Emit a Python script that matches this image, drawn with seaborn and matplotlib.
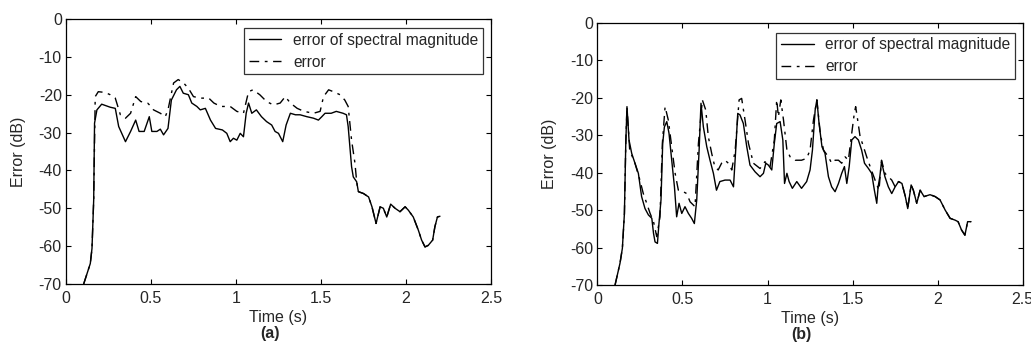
import matplotlib
matplotlib.use("Agg")
import matplotlib.pyplot as plt
import seaborn as sns
import pandas as pd

# ---- (a) error of spectral magnitude ----
t_a_mag = [0.104, 0.143, 0.153, 0.163, 0.168, 0.182, 0.21, 0.26, 0.29, 0.31, 0.35, 0.38, 0.41, 0.43,
           0.46, 0.49, 0.505, 0.535, 0.555, 0.574, 0.60, 0.62, 0.65, 0.67, 0.69, 0.72, 0.74, 0.77,
           0.79, 0.82, 0.85, 0.88, 0.92, 0.946, 0.966, 0.985, 1.005, 1.025, 1.044, 1.06, 1.074,
           1.093, 1.12, 1.15, 1.18, 1.21, 1.23, 1.25, 1.275, 1.295, 1.32, 1.35, 1.377, 1.417,
           1.456, 1.485, 1.505, 1.524, 1.56, 1.59, 1.63, 1.65, 1.66, 1.68, 1.69, 1.71, 1.72, 1.75,
           1.78, 1.80, 1.824, 1.848, 1.867, 1.887, 1.91, 1.936, 1.965, 1.995, 2.014, 2.043, 2.073,
           2.092, 2.112, 2.131, 2.157, 2.17, 2.185, 2.2]
e_a_mag = [-70, -64.6, -60.6, -47.8, -27.5, -24, -22.5, -23.3, -23.6, -28.4, -32.4, -29.7, -26.7,
           -29.7, -29.7, -25.8, -29.7, -29.7, -29.1, -30.6, -28.9, -21.4, -18.7, -17.8, -19.6, -20,
           -22.2, -23.1, -24, -23.6, -26.7, -28.9, -29.3, -30.2, -32.4, -31.5, -32, -30.2, -31.1,
           -24.9, -22.2, -24.9, -24, -25.8, -27.1, -28, -29.7, -30.2, -32.4, -28, -24.9, -25.3,
           -25.3, -25.8, -26.2, -26.7, -25.8, -24.9, -24.9, -24.4, -24.9, -25.3, -28.4, -39, -41.7,
           -43, -45.6, -46.1, -47, -49.6, -54, -49.6, -50, -52.3, -48.9, -50, -50.9, -49.6, -50.5,
           -52.3, -55.8, -58.4, -60.2, -59.8, -58.4, -54.9, -52.3, -52.1]

# ---- (a) error ----
t_a_err = [0.104, 0.143, 0.153, 0.163, 0.172, 0.19, 0.23, 0.26, 0.29, 0.32, 0.35, 0.38, 0.41, 0.44,
           0.48, 0.50, 0.515, 0.555, 0.584, 0.60, 0.633, 0.66, 0.69, 0.72, 0.75, 0.79, 0.84, 0.87,
           0.91, 0.966, 1.005, 1.044, 1.074, 1.10, 1.14, 1.18, 1.22, 1.26, 1.29, 1.32, 1.36, 1.40,
           1.456, 1.495, 1.515, 1.545, 1.573, 1.612, 1.64, 1.66, 1.68, 1.70, 1.71, 1.72, 1.75,
           1.78, 1.80, 1.824, 1.848, 1.867, 1.887, 1.91, 1.936, 1.965, 1.995, 2.014, 2.043, 2.073,
           2.092, 2.112, 2.131, 2.157, 2.17, 2.185, 2.2]
e_a_err = [-70, -64.6, -60.6, -47.8, -20.5, -19.2, -19.4, -20, -20.9, -25.3, -26.2, -24.9, -20.5,
           -21.8, -22.2, -23.1, -24, -24.9, -25.8, -24, -16.9, -16, -16.8, -18.3, -20.5, -20.9,
           -20.9, -22.2, -23.1, -23.1, -24.4, -24.9, -19.2, -18.7, -20, -21.8, -22.7, -22.2, -20.5,
           -22.2, -23.6, -24.4, -24.9, -24.4, -20.5, -18.7, -19.2, -20, -21.4, -23.1, -32, -38.1,
           -43, -45.6, -46.1, -47, -49.6, -54, -49.6, -50, -52.3, -48.9, -50, -50.9, -49.6, -50.5,
           -52.3, -55.8, -58.4, -60.2, -59.8, -58.4, -54.9, -52.3, -52.1]

# ---- (b) error of spectral magnitude ----
t_b_mag = [0.104, 0.133, 0.147, 0.159, 0.167, 0.174, 0.186, 0.202, 0.221, 0.241, 0.26, 0.28, 0.30,
           0.32, 0.33, 0.339, 0.353, 0.362, 0.374, 0.384, 0.394, 0.408, 0.421, 0.437, 0.453, 0.466,
           0.48, 0.496, 0.515, 0.535, 0.554, 0.57, 0.584, 0.598, 0.609, 0.623, 0.643, 0.662, 0.682,
           0.70, 0.72, 0.75, 0.78, 0.80, 0.813, 0.825, 0.838, 0.858, 0.878, 0.897, 0.927, 0.956,
           0.976, 0.99, 1.005, 1.025, 1.04, 1.054, 1.074, 1.09, 1.10, 1.114, 1.127, 1.146, 1.172,
           1.20, 1.23, 1.25, 1.264, 1.28, 1.29, 1.303, 1.32, 1.338, 1.358, 1.377, 1.397, 1.417,
           1.436, 1.452, 1.466, 1.48, 1.495, 1.514, 1.534, 1.553, 1.57, 1.593, 1.612, 1.628, 1.642,
           1.65, 1.66, 1.67, 1.69, 1.71, 1.73, 1.75, 1.77, 1.79, 1.81, 1.824, 1.844, 1.857, 1.877,
           1.897, 1.92, 1.955, 1.985, 2.014, 2.044, 2.073, 2.103, 2.12, 2.14, 2.16, 2.176, 2.196]
e_b_mag = [-70, -64.2, -60.2, -50.9, -32.2, -22.4, -31.3, -34.9, -37.5, -40.2, -46.4, -49.6, -51.3,
           -52.2, -56.2, -58.5, -58.9, -53.6, -47.3, -32.2, -27.8, -26.4, -29.5, -36.7, -43.8,
           -51.8, -48.2, -50.9, -49.1, -50.9, -52.2, -53.6, -47.3, -34, -21.5, -27.8, -33.1, -36.7,
           -40.2, -44.7, -42.4, -42, -42, -43.8, -34, -24.2, -24.6, -26.9, -33.1, -38, -39.8, -41.1,
           -40.2, -37.5, -38, -39.3, -32.2, -26.9, -26.4, -31.3, -42.9, -40.2, -42.4, -44.2, -42.4,
           -44.2, -42.4, -39.3, -34, -23.3, -20.6, -26.9, -33.1, -34.9, -41.1, -43.8, -45.1, -42.9,
           -40.2, -38.4, -42.9, -38.4, -31.3, -30.4, -31.3, -34, -37.5, -38.9, -40.2, -44.7, -48.2,
           -43.8, -41.1, -37.1, -41.1, -43.8, -45.6, -43.8, -42.4, -42.9, -46.4, -49.6, -43.3,
           -44.7, -48.2, -44.7, -46.4, -45.9, -46.4, -47.3, -50, -52.2, -52.7, -53.1, -55.3, -56.7,
           -53.1, -53.1]

# ---- (b) error ----
t_b_err = [0.104, 0.133, 0.147, 0.159, 0.167, 0.174, 0.19, 0.221, 0.25, 0.27, 0.29, 0.31, 0.33,
           0.349, 0.368, 0.382, 0.398, 0.417, 0.437, 0.457, 0.476, 0.505, 0.525, 0.545, 0.574,
           0.594, 0.617, 0.637, 0.652, 0.672, 0.69, 0.71, 0.73, 0.75, 0.77, 0.79, 0.81, 0.833,
           0.848, 0.868, 0.888, 0.917, 0.956, 0.985, 1.015, 1.04, 1.054, 1.064, 1.078, 1.094, 1.114,
           1.133, 1.162, 1.20, 1.23, 1.25, 1.27, 1.29, 1.31, 1.329, 1.358, 1.377, 1.397, 1.417,
           1.436, 1.456, 1.475, 1.495, 1.51, 1.518, 1.53, 1.544, 1.564, 1.583, 1.603, 1.632, 1.655,
           1.67, 1.69, 1.73, 1.75, 1.77, 1.79, 1.81, 1.824, 1.844, 1.857, 1.877, 1.897, 1.92, 1.955,
           1.985, 2.014, 2.044, 2.073, 2.103, 2.12, 2.14, 2.16, 2.176, 2.196]
e_b_err = [-70, -64.2, -60.2, -50.9, -32.2, -22.4, -34, -37.5, -42, -45.6, -48.2, -50.9, -53.1,
           -57.1, -51.8, -32.2, -22.4, -26, -33.1, -40.2, -44.7, -45.1, -45.6, -47.8, -49.1, -32.2,
           -20.6, -23.3, -30.4, -34.9, -38.4, -39.3, -37.5, -36.7, -37.5, -39.3, -34, -20.6, -20.2,
           -26, -32.2, -37.5, -38.9, -37.1, -38.4, -31.3, -20.6, -25.1, -20.6, -26, -34, -35.8,
           -36.7, -36.7, -36.2, -34, -26, -20.6, -29.5, -34, -35.8, -37.5, -36.7, -36.7, -37.5,
           -35.8, -36.7, -29.5, -24.2, -22.4, -26, -30.4, -33.1, -35.8, -38.4, -42, -44.7, -36.7,
           -40.2, -42, -43.8, -42.4, -42.9, -46.4, -49.6, -43.3, -44.7, -48.2, -44.7, -46.4, -45.9,
           -46.4, -47.3, -50, -52.2, -52.7, -53.1, -55.3, -56.7, -53.1, -53.1]

series_names = ["error of spectral magnitude", "error"]
panel_labels = ["(a)", "(b)"]
x_ticks = [0, 0.5, 1, 1.5, 2, 2.5]
x_tick_labels = ["0", "0.5", "1", "1.5", "2", "2.5"]
y_ticks = [-70, -60, -50, -40, -30, -20, -10, 0]
y_tick_labels = ["-70", "-60", "-50", "-40", "-30", "-20", "-10", "0"]

sns.set_style("ticks")
plt.rcParams["font.family"] = ["Liberation Sans", "DejaVu Sans"]
plt.rcParams["xtick.direction"] = "in"
plt.rcParams["ytick.direction"] = "in"

fig = plt.figure(figsize=(10.31, 3.45), dpi=100)
ax_a = fig.add_axes([0.0640, 0.1768, 0.4122, 0.7681])
ax_b = fig.add_axes([0.5794, 0.1739, 0.4126, 0.7603])

panels = [
    (ax_a, t_a_mag, e_a_mag, t_a_err, e_a_err, (0.981, 0.966)),
    (ax_b, t_b_mag, e_b_mag, t_b_err, e_b_err, (0.982, 0.962)),
]

for (ax, tm, em, te, ee, anchor), plabel in zip(panels, panel_labels):
    df_m = pd.DataFrame({"t": tm, "e": em})
    df_e = pd.DataFrame({"t": te, "e": ee})
    sns.lineplot(data=df_m, x="t", y="e", ax=ax, color="black", lw=1.0,
                 label=series_names[0], estimator=None, sort=False)
    sns.lineplot(data=df_e, x="t", y="e", ax=ax, color="black", lw=1.0,
                 label=series_names[1], estimator=None, sort=False,
                 linestyle=(0, (7, 4, 2, 4)))
    ax.set_xlim(0, 2.5)
    ax.set_ylim(-70, 0)
    ax.set_xticks(x_ticks)
    ax.set_xticklabels(x_tick_labels)
    ax.set_yticks(y_ticks)
    ax.set_yticklabels(y_tick_labels)
    ax.tick_params(axis="both", which="both", top=True, right=True, length=3.5,
                   width=0.8, labelsize=11.5, color="black")
    ax.tick_params(axis="x", pad=5)
    ax.tick_params(axis="y", pad=3)
    for s in ax.spines.values():
        s.set_visible(True)
        s.set_color("black")
        s.set_linewidth(0.9)
    ax.set_xlabel("Time (s)", fontsize=11.5, labelpad=3)
    ax.set_ylabel("Error (dB)", fontsize=11.5, labelpad=9)
    ax.text(0.48, -0.160, plabel, transform=ax.transAxes, ha="center", va="top",
            fontsize=11.5, fontweight="bold")
    leg = ax.legend(loc="upper right", bbox_to_anchor=anchor, frameon=True,
                    fancybox=False, shadow=False, fontsize=11.2, handlelength=2.1,
                    borderpad=0.3, labelspacing=0.45, handletextpad=0.75,
                    borderaxespad=0.0)
    leg.get_frame().set_edgecolor("black")
    leg.get_frame().set_linewidth(0.9)

fig.savefig("out.png", dpi=100)
